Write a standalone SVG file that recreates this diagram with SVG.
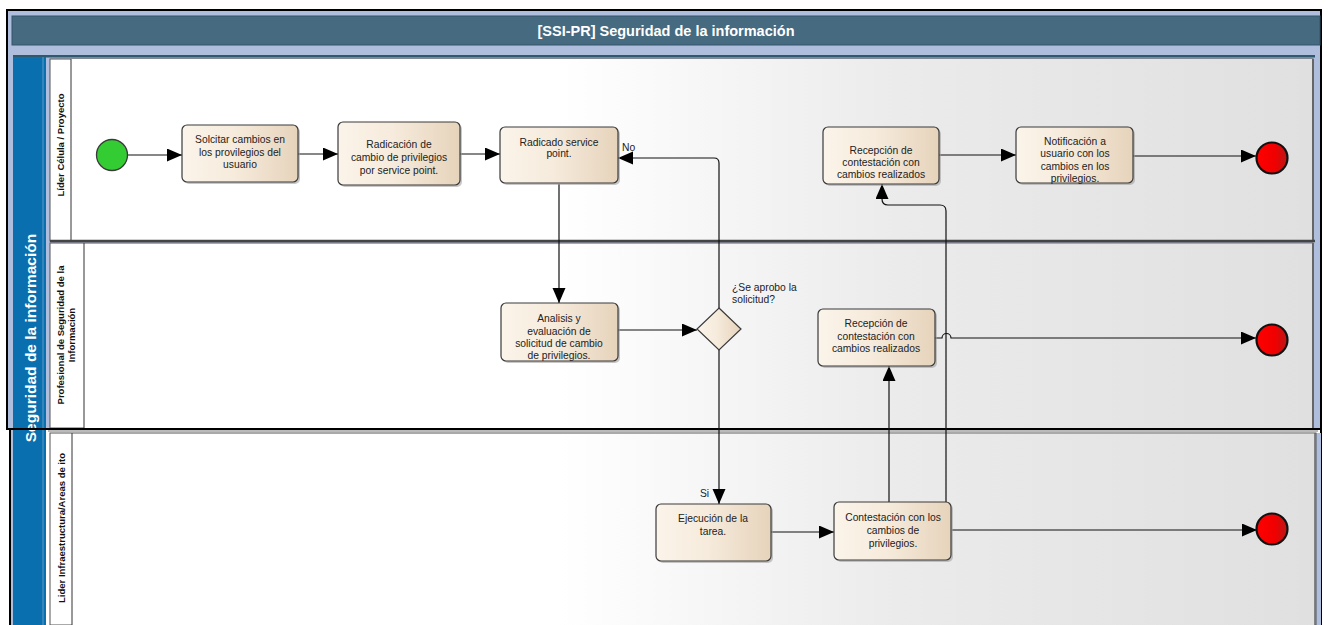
<svg xmlns="http://www.w3.org/2000/svg" width="1329" height="625" viewBox="0 0 1329 625">
  <style>
    .task rect.box { fill: url(#taskFill); stroke: #3a3a3a; stroke-width: 1.2; }
    .task rect.shadow { fill: #9a9a9a; opacity: 0.55; }
    .lbl { font-family: "Liberation Sans", Arial, sans-serif; font-size: 10.3px; fill: #222; text-anchor: middle; }
    .note { font-family: "Liberation Sans", Arial, sans-serif; font-size: 10.3px; fill: #222; }
    .lane-lbl { font-family: "Liberation Sans", Arial, sans-serif; font-size: 9.5px; font-weight: bold; fill: #111; text-anchor: middle; }
    .conn path, .conn line { fill: none; stroke: #111; stroke-width: 1.2; }
    .lane-bg { fill: url(#laneFill); }
    .end circle { fill: url(#endFill); stroke: #111; stroke-width: 2.2; }
  </style>
  <defs>
    <linearGradient id="taskFill" x1="0" y1="0" x2="1" y2="0">
      <stop offset="0" stop-color="#fbf4ea"/>
      <stop offset="0.45" stop-color="#f6ebdc"/>
      <stop offset="1" stop-color="#e6d3bb"/>
    </linearGradient>
    <linearGradient id="laneFill" gradientUnits="userSpaceOnUse" x1="560" y1="0" x2="1313" y2="0">
      <stop offset="0" stop-color="#ffffff"/>
      <stop offset="0.45" stop-color="#ebebeb"/>
      <stop offset="1" stop-color="#e0e0e0"/>
    </linearGradient>
    <linearGradient id="endFill" x1="0" y1="0" x2="1" y2="0">
      <stop offset="0" stop-color="#ff0000"/>
      <stop offset="0.6" stop-color="#f00000"/>
      <stop offset="1" stop-color="#b81818"/>
    </linearGradient>
    <marker id="arrow" markerUnits="userSpaceOnUse" markerWidth="16" markerHeight="14" refX="15" refY="6.5" orient="auto">
      <path d="M0,0 L15,6.5 L0,13 z" fill="#000"/>
    </marker>
  </defs>

  <!-- canvas -->
  <rect x="0" y="0" width="1329" height="625" fill="#ffffff"/>

  <!-- upper frame: title and first two lanes -->
  <g id="frame-top">
    <rect x="7" y="10" width="1314" height="419" fill="#afbedc" stroke="#000" stroke-width="2"/>
    <rect x="12" y="16" width="1308" height="29" fill="#466a80" stroke="#34546a" stroke-width="1"/>
    <text x="666" y="36" font-family="'Liberation Sans', Arial, sans-serif" font-size="14.5" font-weight="bold" fill="#ffffff" text-anchor="middle">[SSI-PR] Seguridad de la información</text>
    <rect x="13" y="55" width="1302" height="2.5" fill="#2f5a6e"/>
  </g>

  <!-- pool label column -->
  <g id="pool">
    <rect x="13" y="57" width="33" height="568" fill="#0a6fae"/>
    <line x1="43" y1="57" x2="43" y2="625" stroke="#5f9cc8" stroke-width="1"/>
    <text transform="translate(36,338) rotate(-90)" font-family="'Liberation Sans', Arial, sans-serif" font-size="15.5" font-weight="bold" fill="#ffffff" text-anchor="middle">Seguridad de la información</text>
  </g>

  <!-- lane 1 -->
  <g id="lane-lider-celula">
    <rect x="50" y="59" width="1263" height="182" fill="#fff" stroke="#555" stroke-width="1"/>
    <rect class="lane-bg" x="71" y="59" width="1242" height="182"/>
    <line x1="71" y1="59" x2="71" y2="241" stroke="#333" stroke-width="1"/>
    <line x1="1313" y1="59" x2="1313" y2="241" stroke="#666" stroke-width="2"/>
    <line x1="50" y1="241" x2="1315" y2="241" stroke="#444" stroke-width="2.5"/>
    <text class="lane-lbl" transform="translate(64,145) rotate(-90)">Líder Célula / Proyecto</text>
  </g>

  <!-- lane 2 -->
  <g id="lane-profesional">
    <rect x="50" y="243" width="1263" height="185" fill="#fff" stroke="#555" stroke-width="1"/>
    <rect class="lane-bg" x="84" y="244" width="1229" height="184"/>
    <line x1="84" y1="243" x2="84" y2="428" stroke="#333" stroke-width="1"/>
    <line x1="1313" y1="243" x2="1313" y2="428" stroke="#666" stroke-width="2"/>
    <text class="lane-lbl" transform="translate(64,335) rotate(-90)">Profesional de Seguridad de la</text>
    <text class="lane-lbl" transform="translate(75,335) rotate(-90)">Información</text>
  </g>

  <!-- lower frame: third lane -->
  <g id="lane-infraestructura">
    <line x1="7" y1="429" x2="1321" y2="429" stroke="#000" stroke-width="2"/>
    <line x1="10" y1="430" x2="10" y2="625" stroke="#000" stroke-width="2"/>
    <line x1="1321" y1="430" x2="1321" y2="625" stroke="#000" stroke-width="2"/>
    <rect x="11" y="430" width="2" height="195" fill="#afbedc"/>
    <rect x="1316" y="433" width="5" height="192" fill="#afbedc"/>
    <rect x="50" y="433" width="1266" height="192" fill="#fff" stroke="#555" stroke-width="1"/>
    <rect class="lane-bg" x="72" y="434" width="1243" height="191"/>
    <line x1="48" y1="431" x2="1318" y2="431" stroke="#777" stroke-width="1"/>
    <line x1="72" y1="433" x2="72" y2="625" stroke="#333" stroke-width="1"/>
    <line x1="1315" y1="433" x2="1315" y2="625" stroke="#666" stroke-width="1.5"/>
    <text class="lane-lbl" transform="translate(65,528) rotate(-90)">Lider Infraestructura/Areas de ito</text>
  </g>

  <!-- connectors -->
  <g id="connectors" class="conn">
    <line x1="128" y1="155" x2="182" y2="155" marker-end="url(#arrow)"/>
    <line x1="298" y1="154" x2="338" y2="154" marker-end="url(#arrow)"/>
    <line x1="460" y1="154" x2="500" y2="154" marker-end="url(#arrow)"/>
    <line x1="559" y1="184" x2="559" y2="303" marker-end="url(#arrow)"/>
    <line x1="618" y1="330" x2="697" y2="330" marker-end="url(#arrow)"/>
    <path d="M719,308 V163 Q719,158 714,158 H618" marker-end="url(#arrow)"/>
    <line x1="719" y1="349" x2="719" y2="504" marker-end="url(#arrow)"/>
    <line x1="771" y1="532" x2="834" y2="532" marker-end="url(#arrow)"/>
    <line x1="889" y1="502" x2="889" y2="366" marker-end="url(#arrow)"/>
    <path d="M946,502 V211 Q946,205 940,205 H888 Q882,205 882,199 V184" marker-end="url(#arrow)"/>
    <path d="M935,338 H942 A4.5,4.5 0 0 1 951,338 H1256" marker-end="url(#arrow)"/>
    <line x1="939" y1="155" x2="1016" y2="155" marker-end="url(#arrow)"/>
    <line x1="1133" y1="156" x2="1256" y2="156" marker-end="url(#arrow)"/>
    <line x1="952" y1="530" x2="1257" y2="530" marker-end="url(#arrow)"/>
    <text class="note" x="622" y="151">No</text>
    <text class="note" x="700" y="497">Si</text>
    <text class="note" x="732" y="291">¿Se aprobo la</text>
    <text class="note" x="732" y="303">solicitud?</text>
  </g>

  <!-- start event -->
  <g id="start">
    <circle cx="112" cy="155" r="15.5" fill="#33cc33" stroke="#3a3a3a" stroke-width="1.3"/>
  </g>

  <g id="task-solicitar" class="task">
    <rect class="shadow" x="184" y="127" width="116" height="57" rx="5"/>
    <rect class="box" x="182" y="125" width="116" height="57" rx="5"/>
    <text class="lbl" x="240" y="143">Solcitar cambios en</text>
    <text class="lbl" x="240" y="156">los provilegios del</text>
    <text class="lbl" x="240" y="168">usuario</text>
  </g>

  <g id="task-radicacion" class="task">
    <rect class="shadow" x="340" y="124" width="122" height="63" rx="5"/>
    <rect class="box" x="338" y="122" width="122" height="63" rx="5"/>
    <text class="lbl" x="399" y="148">Radicación de</text>
    <text class="lbl" x="399" y="161">cambio de privilegios</text>
    <text class="lbl" x="399" y="174">por service point.</text>
  </g>

  <g id="task-radicado" class="task">
    <rect class="shadow" x="502" y="129" width="118" height="56" rx="5"/>
    <rect class="box" x="500" y="127" width="118" height="56" rx="5"/>
    <text class="lbl" x="559" y="146">Radicado service</text>
    <text class="lbl" x="559" y="157">point.</text>
  </g>

  <g id="task-analisis" class="task">
    <rect class="shadow" x="503" y="305" width="117" height="58" rx="5"/>
    <rect class="box" x="501" y="303" width="117" height="58" rx="5"/>
    <text class="lbl" x="559" y="322">Analisis y</text>
    <text class="lbl" x="559" y="335">evaluación de</text>
    <text class="lbl" x="559" y="347">solicitud de cambio</text>
    <text class="lbl" x="559" y="359">de privilegios.</text>
  </g>

  <g id="gateway">
    <polygon points="719,308 741,329 719,350 697,329" fill="url(#taskFill)" stroke="#3a3a3a" stroke-width="1.2"/>
  </g>

  <g id="task-recepcion-lider" class="task">
    <rect class="shadow" x="825" y="129" width="116" height="57" rx="5"/>
    <rect class="box" x="823" y="127" width="116" height="57" rx="5"/>
    <text class="lbl" x="881" y="154">Recepción de</text>
    <text class="lbl" x="881" y="166">contestación con</text>
    <text class="lbl" x="881" y="178">cambios realizados</text>
  </g>

  <g id="task-notificacion" class="task">
    <rect class="shadow" x="1018" y="129" width="117" height="56" rx="5"/>
    <rect class="box" x="1016" y="127" width="117" height="56" rx="5"/>
    <text class="lbl" x="1075" y="145">Notificación a</text>
    <text class="lbl" x="1075" y="157">usuario con los</text>
    <text class="lbl" x="1075" y="170">cambios en los</text>
    <text class="lbl" x="1075" y="182">privilegios.</text>
  </g>

  <g id="end-lider" class="end">
    <circle cx="1272" cy="158" r="15.5"/>
  </g>

  <g id="task-recepcion-profesional" class="task">
    <rect class="shadow" x="820" y="311" width="117" height="57" rx="5"/>
    <rect class="box" x="818" y="309" width="117" height="57" rx="5"/>
    <text class="lbl" x="876" y="327">Recepción de</text>
    <text class="lbl" x="876" y="340">contestación con</text>
    <text class="lbl" x="876" y="352">cambios realizados</text>
  </g>

  <g id="end-profesional" class="end">
    <circle cx="1272" cy="340" r="15.5"/>
  </g>

  <g id="task-ejecucion" class="task">
    <rect class="shadow" x="658" y="506" width="115" height="57" rx="5"/>
    <rect class="box" x="656" y="504" width="115" height="57" rx="5"/>
    <text class="lbl" x="713" y="522">Ejecución de la</text>
    <text class="lbl" x="713" y="535">tarea.</text>
  </g>

  <g id="task-contestacion" class="task">
    <rect class="shadow" x="836" y="504" width="117" height="58" rx="5"/>
    <rect class="box" x="834" y="502" width="117" height="58" rx="5"/>
    <text class="lbl" x="893" y="521">Contestación con los</text>
    <text class="lbl" x="893" y="534">cambios de</text>
    <text class="lbl" x="893" y="547">privilegios.</text>
  </g>

  <g id="end-infraestructura" class="end">
    <circle cx="1272" cy="529" r="15.5"/>
  </g>
</svg>
